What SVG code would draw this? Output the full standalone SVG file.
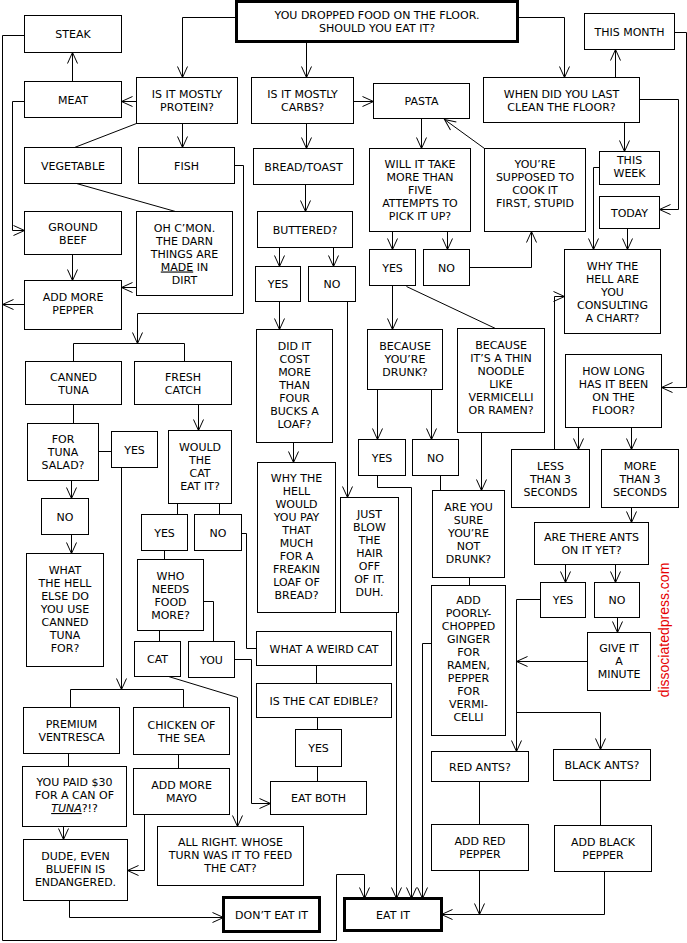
<svg xmlns="http://www.w3.org/2000/svg" width="687" height="943" viewBox="0 0 687 943">
<style>
.n rect{fill:#fff;stroke:#000;stroke-width:1;shape-rendering:crispEdges}
.k rect{stroke-width:3}
text{font-family:"DejaVu Sans",Verdana,sans-serif;font-size:11px;text-anchor:middle;fill:#000}
#connectors path{fill:none;stroke:#000;stroke-width:1}
.a{marker-end:url(#ah)}
.u{text-decoration:underline}
</style>
<defs>
<marker id="ah" markerUnits="userSpaceOnUse" markerWidth="14" markerHeight="14" refX="11" refY="5" orient="auto" overflow="visible">
<path d="M0,0 L11,5 L0,10" fill="none" stroke="#000" stroke-width="1"/>
</marker>
</defs>
<rect x="0" y="0" width="687" height="943" fill="#fff"/>
<g transform="translate(0.5,0.5)">
<g id="connectors">
<path class="a" d="M236,17 H182 V77"/>
<path class="a" d="M306,41 V77"/>
<path class="a" d="M517,17 H564 V77"/>
<path class="a" d="M136,101 H121"/>
<path class="a" d="M72,81 V52"/>
<path class="a" d="M24,35 H2 V940 H336 V874 H364 V898"/>
<path class="a" d="M24,101 H12 V230 H24"/>
<path class="a" d="M182,123 V147"/>
<path d="M136,123 L74,147"/>
<path d="M76,183 L175,211"/>
<path class="a" d="M72,254 V280"/>
<path class="a" d="M136,287 H121"/>
<path class="a" d="M24,304 H2"/>
<path class="a" d="M234,165 H243 V313 H137 V343"/>
<path d="M73,361 V343 H184 V361"/>
<path d="M73,404 V423"/>
<path d="M98,451 H111"/>
<path class="a" d="M71,480 V498"/>
<path class="a" d="M71,534 V553"/>
<path class="a" d="M121,467 V689"/>
<path d="M70,707 V689 H183 V707"/>
<path class="a" d="M198,404 V430"/>
<path d="M177,503 V514 M219,503 V514"/>
<path d="M164,550 V559"/>
<path d="M203,601 H213 V641"/>
<path d="M159,630 V641"/>
<path class="a" d="M168,676 L237,697 V826"/>
<path class="a" d="M234,659 H251 V803 H270"/>
<path d="M241,533 H246 V648 H256"/>
<path d="M316,665 V683"/>
<path d="M317,717 V729"/>
<path d="M317,766 V781"/>
<path d="M68,753 V766"/>
<path class="a" d="M63,826 V839"/>
<path d="M178,754 V768"/>
<path class="a" d="M144,814 V870 H127"/>
<path class="a" d="M69,900 V917 H223"/>
<path class="a" d="M353,101 H373"/>
<path class="a" d="M306,123 V148"/>
<path class="a" d="M305,184 V211"/>
<path class="a" d="M279,247 V266"/>
<path class="a" d="M333,247 V266"/>
<path class="a" d="M279,301 V329"/>
<path class="a" d="M347,301 V497"/>
<path class="a" d="M293,442 V462"/>
<path class="a" d="M396,612 V898"/>
<path class="a" d="M377,475 V487 H411 V898"/>
<path d="M440,475 V490"/>
<path class="a" d="M431,643 H422 V898"/>
<path class="a" d="M421,118 V148"/>
<path class="a" d="M392,231 V249"/>
<path class="a" d="M447,231 V249"/>
<path class="a" d="M469,267 H531 V231"/>
<path class="a" d="M484,148 L444,119"/>
<path class="a" d="M392,285 V329"/>
<path d="M406,286 L495,328"/>
<path class="a" d="M377,389 V439"/>
<path class="a" d="M431,389 V439"/>
<path class="a" d="M481,432 V490"/>
<path d="M469,577 V585"/>
<path class="a" d="M540,599 H516 V751"/>
<path class="a" d="M587,661 H516"/>
<path class="a" d="M516,712 H600 V749"/>
<path d="M479,781 V824"/>
<path d="M600,780 V825"/>
<path class="a" d="M479,870 V914"/>
<path class="a" d="M604,871 V914 H441"/>
<path class="a" d="M615,77 V49"/>
<path class="a" d="M674,32 H686 V387 H661"/>
<path class="a" d="M639,99 H678 V209 H659"/>
<path class="a" d="M624,122 V151"/>
<path class="a" d="M599,167 H593 V249"/>
<path class="a" d="M627,228 V249"/>
<path class="a" d="M554,449 V296 H564"/>
<path class="a" d="M578,427 V449"/>
<path class="a" d="M631,427 V449"/>
<path class="a" d="M631,507 V522"/>
<path class="a" d="M565,564 V582"/>
<path class="a" d="M615,564 V582"/>
<path class="a" d="M617,617 V632"/>
</g>

<g id="start" class="n k"><rect x="236" y="1" width="281" height="40"/><text x="376.5" y="18">YOU DROPPED FOOD ON THE FLOOR.<tspan x="376.5" dy="13">SHOULD YOU EAT IT?</tspan></text></g>
<g id="steak" class="n"><rect x="24" y="15" width="97" height="37"/><text x="72.5" y="37.5">STEAK</text></g>
<g id="meat" class="n"><rect x="24" y="81" width="97" height="36"/><text x="72.5" y="103">MEAT</text></g>
<g id="protein" class="n"><rect x="136" y="77" width="101" height="46"/><text x="186.5" y="97.5">IS IT MOSTLY<tspan x="186.5" dy="13">PROTEIN?</tspan></text></g>
<g id="vegetable" class="n"><rect x="24" y="147" width="97" height="36"/><text x="72.5" y="169">VEGETABLE</text></g>
<g id="fish" class="n"><rect x="138" y="147" width="96" height="36"/><text x="186" y="169">FISH</text></g>
<g id="groundbeef" class="n"><rect x="24" y="211" width="97" height="43"/><text x="72.5" y="230">GROUND<tspan x="72.5" dy="13">BEEF</tspan></text></g>
<g id="ohcmon" class="n"><rect x="136" y="211" width="96" height="84"/><text x="184" y="231">OH C’MON.<tspan x="184" dy="13">THE DARN</tspan><tspan x="184" dy="13">THINGS ARE</tspan><tspan x="184" dy="13"><tspan class="u">MADE</tspan> IN</tspan><tspan x="184" dy="13">DIRT</tspan></text></g>
<g id="addmorepepper" class="n"><rect x="24" y="280" width="97" height="49"/><text x="72.5" y="300.5">ADD MORE<tspan x="72.5" dy="13">PEPPER</tspan></text></g>
<g id="cannedtuna" class="n"><rect x="25" y="361" width="96" height="43"/><text x="73" y="380">CANNED<tspan x="73" dy="13">TUNA</tspan></text></g>
<g id="freshcatch" class="n"><rect x="134" y="361" width="97" height="43"/><text x="182.5" y="380">FRESH<tspan x="182.5" dy="13">CATCH</tspan></text></g>
<g id="fortunasalad" class="n"><rect x="27" y="423" width="71" height="57"/><text x="62.5" y="442">FOR<tspan x="62.5" dy="13">TUNA</tspan><tspan x="62.5" dy="13">SALAD?</tspan></text></g>
<g id="yestuna" class="n"><rect x="111" y="431" width="46" height="36"/><text x="134" y="453">YES</text></g>
<g id="notuna" class="n"><rect x="41" y="498" width="47" height="36"/><text x="64.5" y="520">NO</text></g>
<g id="whatthehell" class="n"><rect x="26" y="553" width="77" height="113"/><text x="64.5" y="573.5">WHAT<tspan x="64.5" dy="13">THE HELL</tspan><tspan x="64.5" dy="13">ELSE DO</tspan><tspan x="64.5" dy="13">YOU USE</tspan><tspan x="64.5" dy="13">CANNED</tspan><tspan x="64.5" dy="13">TUNA</tspan><tspan x="64.5" dy="13">FOR?</tspan></text></g>
<g id="wouldcat" class="n"><rect x="168" y="430" width="63" height="73"/><text x="199.5" y="450.5">WOULD<tspan x="199.5" dy="13">THE</tspan><tspan x="199.5" dy="13">CAT</tspan><tspan x="199.5" dy="13">EAT IT?</tspan></text></g>
<g id="yescat" class="n"><rect x="141" y="514" width="46" height="36"/><text x="164" y="536">YES</text></g>
<g id="nocat" class="n"><rect x="194" y="514" width="47" height="36"/><text x="217.5" y="536">NO</text></g>
<g id="whoneeds" class="n"><rect x="137" y="559" width="66" height="71"/><text x="170" y="579">WHO<tspan x="170" dy="13">NEEDS</tspan><tspan x="170" dy="13">FOOD</tspan><tspan x="170" dy="13">MORE?</tspan></text></g>
<g id="cat" class="n"><rect x="134" y="641" width="46" height="35"/><text x="157" y="662.5">CAT</text></g>
<g id="you" class="n"><rect x="188" y="641" width="46" height="36"/><text x="211" y="663">YOU</text></g>
<g id="premium" class="n"><rect x="23" y="707" width="96" height="46"/><text x="71" y="727.5">PREMIUM<tspan x="71" dy="13">VENTRESCA</tspan></text></g>
<g id="chicken" class="n"><rect x="133" y="707" width="96" height="47"/><text x="181" y="728">CHICKEN OF<tspan x="181" dy="13">THE SEA</tspan></text></g>
<g id="youpaid" class="n"><rect x="22" y="766" width="104" height="60"/><text x="74" y="785.5">YOU PAID $30<tspan x="74" dy="13">FOR A CAN OF</tspan><tspan x="74" dy="13"><tspan class="u" font-style="italic">TUNA</tspan>?!?</tspan></text></g>
<g id="dude" class="n"><rect x="23" y="839" width="104" height="61"/><text x="75" y="859.5">DUDE, EVEN<tspan x="75" dy="13">BLUEFIN IS</tspan><tspan x="75" dy="13">ENDANGERED.</tspan></text></g>
<g id="addmayo" class="n"><rect x="133" y="768" width="96" height="46"/><text x="181" y="788">ADD MORE<tspan x="181" dy="13">MAYO</tspan></text></g>
<g id="allright" class="n"><rect x="157" y="826" width="146" height="59"/><text x="230" y="845.5">ALL RIGHT. WHOSE<tspan x="230" dy="13">TURN WAS IT TO FEED</tspan><tspan x="230" dy="13">THE CAT?</tspan></text></g>
<g id="donteat" class="n k"><rect x="223" y="897" width="96" height="34"/><text x="271" y="918">DON’T EAT IT</text></g>
<g id="carbs" class="n"><rect x="251" y="77" width="102" height="46"/><text x="302" y="97.5">IS IT MOSTLY<tspan x="302" dy="13">CARBS?</tspan></text></g>
<g id="pasta" class="n"><rect x="373" y="83" width="96" height="35"/><text x="421" y="104.5">PASTA</text></g>
<g id="bread" class="n"><rect x="253" y="148" width="100" height="36"/><text x="303" y="170">BREAD/TOAST</text></g>
<g id="buttered" class="n"><rect x="257" y="211" width="95" height="36"/><text x="304.5" y="233">BUTTERED?</text></g>
<g id="yesbread" class="n"><rect x="255" y="266" width="45" height="35"/><text x="277.5" y="287.5">YES</text></g>
<g id="nobread" class="n"><rect x="308" y="266" width="47" height="35"/><text x="331.5" y="287.5">NO</text></g>
<g id="didcost" class="n"><rect x="256" y="329" width="76" height="113"/><text x="294" y="349.5">DID IT<tspan x="294" dy="13">COST</tspan><tspan x="294" dy="13">MORE</tspan><tspan x="294" dy="13">THAN</tspan><tspan x="294" dy="13">FOUR</tspan><tspan x="294" dy="13">BUCKS A</tspan><tspan x="294" dy="13">LOAF?</tspan></text></g>
<g id="whypay" class="n"><rect x="257" y="462" width="78" height="150"/><text x="296" y="481.5">WHY THE<tspan x="296" dy="13">HELL</tspan><tspan x="296" dy="13">WOULD</tspan><tspan x="296" dy="13">YOU PAY</tspan><tspan x="296" dy="13">THAT</tspan><tspan x="296" dy="13">MUCH</tspan><tspan x="296" dy="13">FOR A</tspan><tspan x="296" dy="13">FREAKIN</tspan><tspan x="296" dy="13">LOAF OF</tspan><tspan x="296" dy="13">BREAD?</tspan></text></g>
<g id="justblow" class="n"><rect x="340" y="497" width="58" height="115"/><text x="369" y="517.5">JUST<tspan x="369" dy="13">BLOW</tspan><tspan x="369" dy="13">THE</tspan><tspan x="369" dy="13">HAIR</tspan><tspan x="369" dy="13">OFF</tspan><tspan x="369" dy="13">OF IT.</tspan><tspan x="369" dy="13">DUH.</tspan></text></g>
<g id="weirdcat" class="n"><rect x="256" y="631" width="135" height="34"/><text x="323.5" y="652">WHAT A WEIRD CAT</text></g>
<g id="edible" class="n"><rect x="256" y="683" width="135" height="34"/><text x="323.5" y="704">IS THE CAT EDIBLE?</text></g>
<g id="yesedible" class="n"><rect x="295" y="729" width="46" height="37"/><text x="318" y="751.5">YES</text></g>
<g id="eatboth" class="n"><rect x="270" y="781" width="96" height="33"/><text x="318" y="801.5">EAT BOTH</text></g>
<g id="eatit" class="n k"><rect x="344" y="898" width="97" height="32"/><text x="392.5" y="918">EAT IT</text></g>
<g id="willtake" class="n"><rect x="369" y="148" width="101" height="83"/><text x="419.5" y="167.5">WILL IT TAKE<tspan x="419.5" dy="13">MORE THAN</tspan><tspan x="419.5" dy="13">FIVE</tspan><tspan x="419.5" dy="13">ATTEMPTS TO</tspan><tspan x="419.5" dy="13">PICK IT UP?</tspan></text></g>
<g id="yespasta" class="n"><rect x="369" y="249" width="46" height="36"/><text x="392" y="271">YES</text></g>
<g id="nopasta" class="n"><rect x="423" y="249" width="46" height="36"/><text x="446" y="271">NO</text></g>
<g id="supposed" class="n"><rect x="484" y="148" width="101" height="83"/><text x="534.5" y="167.5">YOU’RE<tspan x="534.5" dy="13">SUPPOSED TO</tspan><tspan x="534.5" dy="13">COOK IT</tspan><tspan x="534.5" dy="13">FIRST, STUPID</tspan></text></g>
<g id="drunk" class="n"><rect x="367" y="329" width="75" height="60"/><text x="404.5" y="349.5">BECAUSE<tspan x="404.5" dy="13">YOU’RE</tspan><tspan x="404.5" dy="13">DRUNK?</tspan></text></g>
<g id="noodle" class="n"><rect x="457" y="328" width="87" height="104"/><text x="500.5" y="348.5">BECAUSE<tspan x="500.5" dy="13">IT’S A THIN</tspan><tspan x="500.5" dy="13">NOODLE</tspan><tspan x="500.5" dy="13">LIKE</tspan><tspan x="500.5" dy="13">VERMICELLI</tspan><tspan x="500.5" dy="13">OR RAMEN?</tspan></text></g>
<g id="yesdrunk" class="n"><rect x="358" y="439" width="47" height="36"/><text x="381.5" y="461">YES</text></g>
<g id="nodrunk" class="n"><rect x="412" y="439" width="46" height="36"/><text x="435" y="461">NO</text></g>
<g id="areyousure" class="n"><rect x="432" y="490" width="72" height="87"/><text x="468" y="510.5">ARE YOU<tspan x="468" dy="13">SURE</tspan><tspan x="468" dy="13">YOU’RE</tspan><tspan x="468" dy="13">NOT</tspan><tspan x="468" dy="13">DRUNK?</tspan></text></g>
<g id="ginger" class="n"><rect x="431" y="585" width="74" height="150"/><text x="468" y="603.5">ADD<tspan x="468" dy="13">POORLY-</tspan><tspan x="468" dy="13">CHOPPED</tspan><tspan x="468" dy="13">GINGER</tspan><tspan x="468" dy="13">FOR</tspan><tspan x="468" dy="13">RAMEN,</tspan><tspan x="468" dy="13">PEPPER</tspan><tspan x="468" dy="13">FOR</tspan><tspan x="468" dy="13">VERMI-</tspan><tspan x="468" dy="13">CELLI</tspan></text></g>
<g id="redants" class="n"><rect x="431" y="751" width="97" height="30"/><text x="479.5" y="770">RED ANTS?</text></g>
<g id="blackants" class="n"><rect x="553" y="749" width="97" height="31"/><text x="601.5" y="768.5">BLACK ANTS?</text></g>
<g id="addred" class="n"><rect x="431" y="824" width="97" height="46"/><text x="479.5" y="844.5">ADD RED<tspan x="479.5" dy="13">PEPPER</tspan></text></g>
<g id="addblack" class="n"><rect x="554" y="825" width="97" height="46"/><text x="602.5" y="845.5">ADD BLACK<tspan x="602.5" dy="13">PEPPER</tspan></text></g>
<g id="thismonth" class="n"><rect x="584" y="13" width="90" height="36"/><text x="629" y="35">THIS MONTH</text></g>
<g id="whendid" class="n"><rect x="483" y="77" width="156" height="45"/><text x="561" y="97">WHEN DID YOU LAST<tspan x="561" dy="13">CLEAN THE FLOOR?</tspan></text></g>
<g id="thisweek" class="n"><rect x="599" y="151" width="60" height="33"/><text x="629" y="163.5">THIS<tspan x="629" dy="13">WEEK</tspan></text></g>
<g id="today" class="n"><rect x="599" y="196" width="60" height="32"/><text x="629" y="216">TODAY</text></g>
<g id="whyhell" class="n"><rect x="564" y="249" width="96" height="84"/><text x="612" y="269">WHY THE<tspan x="612" dy="13">HELL ARE</tspan><tspan x="612" dy="13">YOU</tspan><tspan x="612" dy="13">CONSULTING</tspan><tspan x="612" dy="13">A CHART?</tspan></text></g>
<g id="howlong" class="n"><rect x="565" y="354" width="96" height="73"/><text x="613" y="374.5">HOW LONG<tspan x="613" dy="13">HAS IT BEEN</tspan><tspan x="613" dy="13">ON THE</tspan><tspan x="613" dy="13">FLOOR?</tspan></text></g>
<g id="less" class="n"><rect x="511" y="449" width="78" height="58"/><text x="550" y="469">LESS<tspan x="550" dy="13">THAN 3</tspan><tspan x="550" dy="13">SECONDS</tspan></text></g>
<g id="more" class="n"><rect x="601" y="449" width="77" height="58"/><text x="639.5" y="469">MORE<tspan x="639.5" dy="13">THAN 3</tspan><tspan x="639.5" dy="13">SECONDS</tspan></text></g>
<g id="ants" class="n"><rect x="534" y="522" width="114" height="42"/><text x="591" y="540.5">ARE THERE ANTS<tspan x="591" dy="13">ON IT YET?</tspan></text></g>
<g id="yesants" class="n"><rect x="540" y="582" width="45" height="35"/><text x="562.5" y="603.5">YES</text></g>
<g id="noants" class="n"><rect x="594" y="582" width="45" height="35"/><text x="616.5" y="603.5">NO</text></g>
<g id="giveit" class="n"><rect x="587" y="632" width="63" height="58"/><text x="618.5" y="651.5">GIVE IT<tspan x="618.5" dy="13">A</tspan><tspan x="618.5" dy="13">MINUTE</tspan></text></g>
</g>
<text transform="translate(669,630) rotate(-90)" style="font-family:'Liberation Sans',Arial,sans-serif;font-size:14px;fill:#e60000">dissociatedpress.com</text>
</svg>
